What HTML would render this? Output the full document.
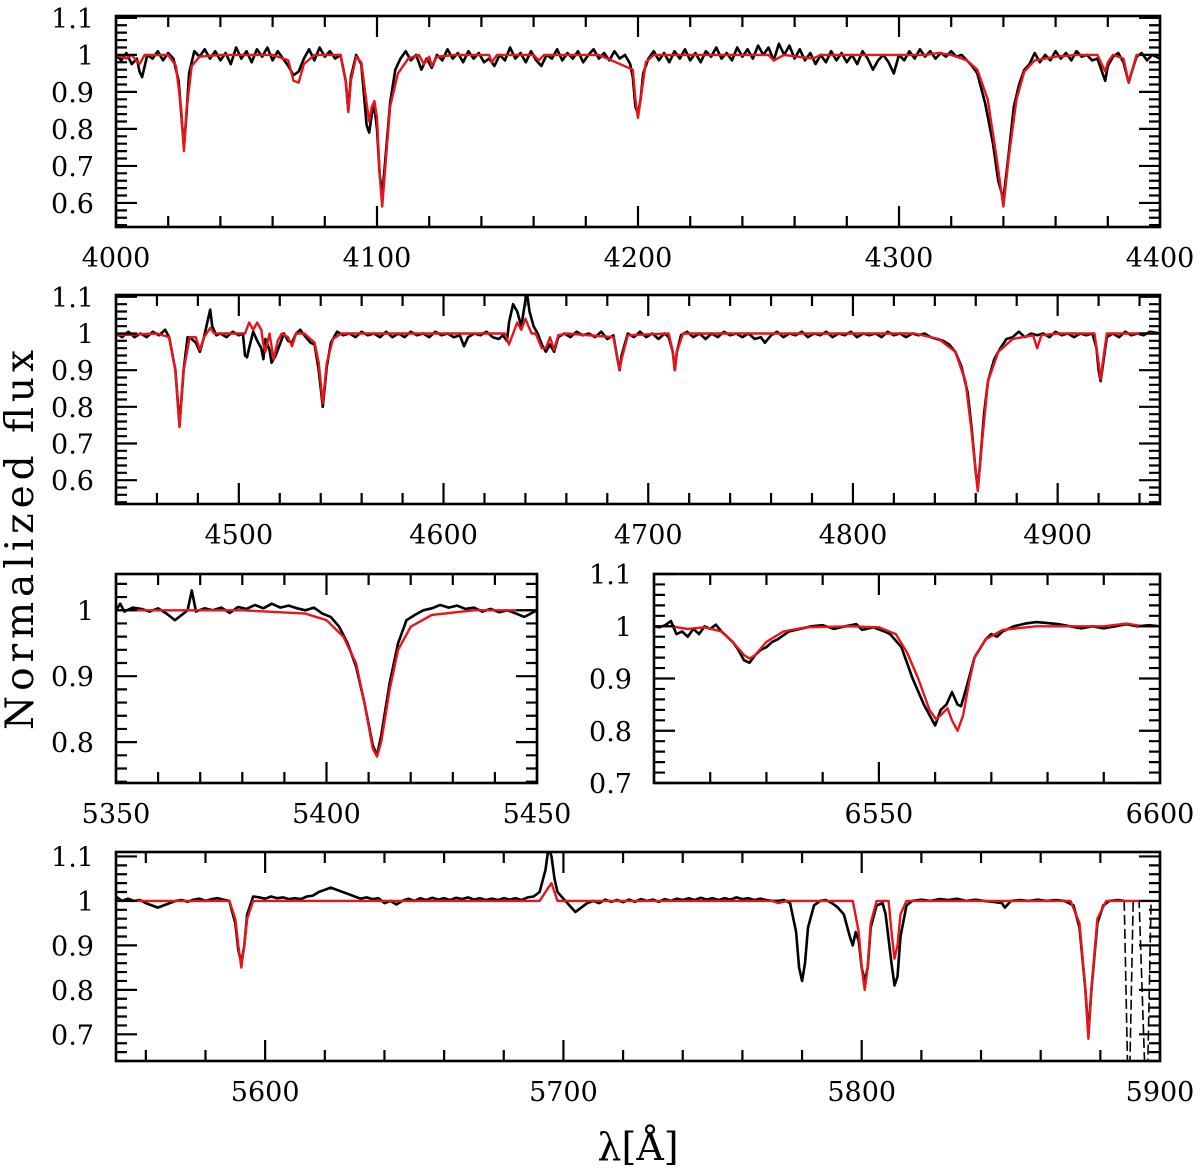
<!DOCTYPE html>
<html><head><meta charset="utf-8"><style>
html,body{margin:0;padding:0;background:#fff;}
svg{display:block;}
text{font-family:"DejaVu Serif","Liberation Serif",serif;fill:#000;}
</style></head><body>
<svg id="chart" width="1200" height="1176" viewBox="0 0 1200 1176" xmlns="http://www.w3.org/2000/svg">
<text x="0" y="0" font-size="39" text-anchor="middle" textLength="380" lengthAdjust="spacing" transform="translate(33,540) rotate(-90)">Normalized flux</text>
<text x="638" y="1160" font-size="38" text-anchor="middle">λ[Å]</text>
</svg>
<script>
// ---- Data (wavelength, flux) pairs ----
const p1Model = [4000,1.0,4004,0.99,4006,1.0,4009,0.975,4011,1.0,4020,1.0,4023,0.97,4025,0.85,4026,0.74,4027,0.85,4029,0.97,4032,0.995,4040,1.0,4060,1.0,4066,0.985,4068,0.93,4070,0.925,4072,0.975,4076,1.0,4086,1.0,4088,0.93,4089,0.845,4090,0.93,4092,0.995,4094,0.98,4096,0.87,4097,0.82,4098,0.86,4099,0.875,4100,0.83,4101,0.68,4102,0.59,4103,0.68,4105,0.86,4108,0.95,4112,0.99,4116,1.0,4118,0.975,4120,0.995,4121,0.97,4123,0.995,4130,1.0,4143,1.0,4144,0.98,4146,1.0,4160,1.0,4162,0.985,4164,1.0,4185,1.0,4198,0.96,4199,0.88,4200,0.83,4201,0.88,4203,0.98,4206,1.0,4250,1.0,4252,0.985,4256,1.0,4267,0.99,4270,1.0,4290,1.0,4310,1.0,4315,1.005,4320,1.0,4326,0.985,4330,0.96,4334,0.88,4337,0.74,4340,0.59,4342,0.72,4345,0.88,4348,0.955,4352,0.985,4360,0.995,4368,1.0,4376,1.0,4378,0.97,4379,0.955,4380,0.98,4382,1.0,4386,0.99,4388,0.925,4389,0.95,4391,1.0,4400,1.0];
const p1Obs = [4000,1.0,4002,0.985,4004,1.005,4006,0.975,4008,0.99,4009,0.955,4010,0.94,4012,1.0,4014,0.99,4016,1.01,4018,0.985,4020,1.005,4022,0.99,4024,0.93,4025,0.84,4026,0.75,4027,0.84,4028,0.95,4030,1.01,4032,0.995,4034,1.015,4036,0.99,4038,1.01,4040,0.985,4042,1.005,4044,0.975,4046,1.02,4048,0.99,4050,1.01,4052,0.98,4054,1.015,4056,0.995,4058,1.02,4060,0.985,4062,1.01,4064,0.99,4066,0.97,4068,0.945,4070,0.955,4072,0.99,4074,1.015,4076,0.985,4078,1.02,4080,0.995,4082,1.01,4084,0.99,4086,1.0,4088,0.93,4089,0.85,4090,0.94,4092,1.0,4094,0.975,4096,0.81,4097,0.79,4098,0.84,4099,0.86,4100,0.8,4101,0.68,4102,0.62,4103,0.7,4105,0.87,4107,0.96,4109,0.99,4111,1.01,4113,0.985,4115,1.0,4117,0.96,4119,0.99,4121,0.965,4123,1.0,4125,0.985,4127,1.015,4129,0.99,4131,1.005,4133,0.98,4135,1.01,4137,0.99,4139,1.005,4141,0.98,4143,0.99,4145,0.97,4147,1.0,4149,0.985,4151,1.02,4153,0.99,4155,1.005,4157,0.98,4159,1.01,4161,0.985,4163,0.97,4165,1.0,4167,0.99,4169,1.015,4171,0.985,4173,1.005,4175,0.99,4177,1.01,4179,0.98,4181,1.0,4183,1.015,4185,0.99,4187,1.005,4189,0.985,4191,1.01,4193,0.99,4195,1.0,4197,0.975,4198,0.94,4199,0.86,4200,0.84,4201,0.88,4202,0.95,4204,0.99,4206,1.01,4208,0.985,4210,1.005,4212,0.98,4214,1.01,4216,0.99,4218,1.015,4220,0.985,4222,1.005,4224,0.98,4226,1.01,4228,0.995,4230,1.02,4232,0.99,4234,1.005,4236,0.985,4238,1.02,4240,0.995,4242,1.015,4244,0.99,4246,1.025,4248,1.0,4250,1.02,4252,0.985,4254,1.03,4256,1.0,4258,1.025,4260,0.99,4262,1.015,4264,0.985,4266,1.005,4268,0.975,4270,1.0,4272,0.98,4274,1.01,4276,0.985,4278,1.005,4280,0.98,4282,1.0,4284,0.975,4286,1.01,4288,0.99,4290,0.96,4292,0.985,4294,1.0,4296,0.98,4298,0.95,4300,1.0,4302,0.985,4304,1.01,4306,0.99,4308,1.015,4310,0.995,4312,1.01,4314,0.99,4316,1.005,4318,0.995,4320,1.01,4322,0.995,4324,1.0,4326,0.985,4328,0.97,4330,0.95,4333,0.87,4336,0.76,4338,0.66,4340,0.61,4342,0.73,4344,0.86,4346,0.92,4348,0.96,4350,0.975,4352,1.005,4354,0.98,4356,1.0,4358,0.985,4360,1.01,4362,0.99,4364,1.005,4366,0.985,4368,1.01,4370,0.995,4372,1.0,4374,0.985,4376,0.99,4378,0.95,4379,0.93,4380,0.97,4382,0.995,4384,1.005,4386,0.98,4388,0.925,4389,0.95,4391,0.995,4393,1.005,4395,0.985,4397,1.0,4400,0.99];
const p2Model = [4440,0.995,4460,1.0,4466,0.99,4469,0.9,4471,0.745,4473,0.9,4476,0.99,4479,0.99,4481,0.955,4483,0.99,4486,1.015,4488,1.0,4500,1.0,4503,1.0,4505,1.03,4507,1.01,4509,1.03,4511,1.01,4512,0.97,4513,0.95,4515,1.0,4517,0.93,4519,0.98,4521,1.0,4524,0.99,4526,0.965,4528,1.0,4532,1.0,4537,0.975,4539,0.92,4541,0.81,4543,0.92,4546,0.985,4550,1.0,4580,1.0,4600,1.0,4630,1.0,4632,0.97,4634,1.0,4636,1.03,4638,1.01,4640,1.04,4643,1.0,4645,1.0,4648,0.96,4650,0.96,4652,0.99,4654,0.955,4656,0.995,4660,1.0,4683,0.99,4685,0.93,4686,0.9,4687,0.93,4690,0.995,4710,1.0,4712,0.95,4713,0.9,4714,0.95,4717,1.0,4800,1.0,4830,1.0,4842,0.985,4850,0.95,4855,0.87,4858,0.73,4861,0.57,4863,0.7,4866,0.87,4871,0.95,4878,0.985,4888,0.995,4890,0.96,4892,0.995,4900,1.0,4918,1.0,4920,0.92,4921,0.875,4922,0.92,4924,1.0,4950,1.0];
const p2Obs = [4440,1.0,4443,0.99,4446,1.005,4449,0.99,4452,1.0,4455,0.99,4458,1.005,4461,0.995,4464,1.01,4466,0.99,4469,0.9,4471,0.75,4473,0.9,4475,0.99,4477,0.985,4479,0.975,4481,0.95,4483,0.99,4485,1.04,4486,1.065,4487,1.02,4489,0.995,4491,1.0,4494,0.99,4497,1.005,4500,0.995,4502,1.0,4503,0.94,4504,0.935,4505,0.96,4507,1.005,4509,0.98,4511,0.96,4512,0.93,4513,0.985,4515,0.955,4516,0.92,4518,0.94,4520,0.97,4522,1.0,4524,0.98,4526,0.975,4528,1.0,4530,1.01,4532,0.995,4535,0.975,4537,0.97,4539,0.9,4541,0.8,4543,0.91,4545,0.975,4548,1.005,4551,0.995,4554,1.0,4557,0.99,4560,1.005,4563,0.995,4566,1.0,4569,0.99,4572,1.005,4575,0.99,4578,1.0,4581,0.99,4584,1.005,4587,0.995,4590,1.0,4593,0.99,4596,1.005,4599,0.995,4602,1.0,4605,0.99,4608,0.995,4610,0.965,4612,0.99,4615,1.0,4618,0.995,4621,1.005,4624,0.99,4627,0.985,4629,0.995,4631,0.98,4632,1.03,4634,1.08,4636,1.06,4638,1.02,4640,1.09,4641,1.1,4642,1.06,4644,1.02,4646,1.0,4648,0.97,4650,0.95,4652,0.97,4654,0.95,4656,0.99,4659,1.0,4662,0.99,4665,1.005,4668,0.995,4671,1.0,4674,0.99,4677,1.005,4680,0.985,4683,0.995,4685,0.93,4686,0.9,4687,0.94,4690,1.0,4693,0.99,4696,1.005,4699,0.99,4702,1.0,4705,0.985,4708,1.0,4710,0.99,4712,0.95,4713,0.9,4714,0.95,4716,0.995,4719,1.005,4722,0.99,4725,1.0,4728,0.985,4731,1.0,4734,0.99,4737,1.005,4740,0.995,4743,1.0,4746,0.99,4749,1.0,4752,0.985,4755,0.99,4757,0.975,4760,0.995,4763,1.005,4766,0.99,4769,1.0,4772,0.995,4775,1.005,4778,0.99,4781,1.0,4784,0.995,4787,1.005,4790,0.99,4793,1.0,4796,0.995,4799,1.005,4802,0.99,4805,1.0,4808,0.995,4811,1.0,4814,0.99,4817,1.005,4820,0.995,4823,1.0,4826,0.99,4829,1.0,4832,0.995,4835,1.0,4838,0.99,4841,0.985,4844,0.98,4847,0.97,4850,0.95,4853,0.91,4856,0.84,4858,0.74,4860,0.62,4861,0.58,4862,0.64,4864,0.78,4866,0.87,4869,0.93,4872,0.96,4875,0.985,4878,0.99,4881,1.005,4884,0.99,4887,1.0,4890,0.995,4893,1.0,4896,0.99,4899,1.005,4902,0.995,4905,1.0,4908,0.99,4911,1.0,4914,0.995,4917,1.0,4919,0.96,4920,0.9,4921,0.87,4922,0.91,4924,0.99,4927,1.0,4930,0.99,4933,1.005,4936,0.995,4939,1.0,4942,0.995,4945,1.005,4950,1.0];
const p3Model = [5350,1.0,5380,1.0,5395,0.995,5400,0.985,5404,0.96,5407,0.92,5409,0.86,5411,0.79,5412,0.778,5413,0.8,5415,0.88,5417,0.94,5420,0.975,5425,0.993,5435,1.0,5450,1.0];
const p3Obs = [5350,1.0,5351,1.01,5352,0.998,5354,1.004,5356,1.002,5358,0.998,5360,1.003,5362,0.995,5363,0.99,5364,0.985,5365,0.99,5366,0.995,5367,1.0,5368,1.03,5369,0.998,5371,1.003,5373,1.0,5375,1.004,5377,0.996,5379,1.005,5381,1.002,5383,1.008,5385,1.003,5387,1.01,5389,1.004,5391,1.007,5393,1.003,5395,1.0,5397,1.004,5399,0.995,5401,0.99,5403,0.975,5405,0.95,5407,0.915,5409,0.86,5411,0.795,5412,0.78,5413,0.81,5415,0.89,5417,0.95,5419,0.985,5421,0.993,5423,1.0,5425,1.003,5427,1.008,5429,1.004,5431,1.007,5433,1.002,5435,1.004,5437,0.998,5439,1.002,5441,0.997,5443,1.0,5445,0.995,5447,0.99,5450,1.0];
const p4Model = [6510,1.0,6513,1.0,6516,0.995,6519,0.998,6522,0.99,6524,0.97,6526,0.945,6527,0.938,6528,0.945,6530,0.97,6533,0.99,6537,0.998,6545,1.0,6550,0.998,6553,0.985,6555,0.95,6557,0.9,6559,0.84,6560.2,0.822,6561,0.83,6562.2,0.843,6563,0.82,6564,0.8,6565,0.83,6566,0.89,6567,0.94,6569,0.975,6572,0.993,6578,1.0,6590,1.0,6594,1.005,6597,1.0,6600,1.0];
const p4Obs = [6510,1.0,6511,0.998,6512,1.002,6513,1.01,6514,0.985,6515,0.99,6516,0.98,6517,0.995,6518,0.985,6519,1.0,6520,0.995,6521,1.003,6522,0.99,6523,0.98,6524,0.97,6525,0.955,6526,0.935,6527,0.93,6528,0.945,6529,0.955,6530,0.96,6531,0.97,6532,0.975,6534,0.99,6536,0.995,6538,1.0,6540,1.002,6542,0.995,6544,1.0,6546,1.004,6547,0.993,6549,0.998,6551,0.99,6552,0.985,6554,0.96,6556,0.9,6558,0.85,6559.5,0.82,6560,0.81,6561,0.84,6562,0.85,6563,0.874,6564,0.85,6564.6,0.847,6565.5,0.88,6567,0.94,6569,0.975,6570,0.985,6571,0.98,6572,0.99,6574,1.0,6576,1.005,6578,1.008,6580,1.006,6582,1.004,6584,1.0,6586,0.996,6588,1.0,6590,0.996,6592,1.0,6594,1.004,6596,1.0,6598,1.002,6600,1.0];
const p5Model = [5550,1.0,5588,1.0,5590,0.96,5591,0.9,5592,0.85,5593,0.9,5594,0.96,5596,1.0,5692,1.0,5694,1.02,5696,1.04,5698,1.0,5770,1.0,5772,0.995,5775,1.0,5797,1.0,5799,0.93,5800,0.85,5801,0.8,5802,0.85,5803,0.95,5805,1.0,5809,1.0,5810,0.93,5811,0.87,5812,0.9,5813,0.97,5815,1.0,5870,1.0,5873,0.95,5875,0.8,5876,0.69,5877,0.8,5879,0.96,5882,1.0,5900,1.0];
const p5Obs = [5550,1.01,5552,1.0,5554,1.005,5556,1.0,5558,1.002,5560,0.995,5562,0.99,5564,0.985,5566,0.99,5568,0.995,5570,1.0,5572,1.002,5574,0.998,5576,1.003,5578,1.005,5580,1.0,5582,1.004,5584,1.006,5586,1.003,5588,1.0,5590,0.95,5591,0.89,5592,0.86,5593,0.9,5594,0.97,5596,1.01,5598,1.008,5600,1.005,5602,1.01,5604,1.006,5606,1.008,5608,1.004,5610,1.006,5612,1.004,5614,1.01,5616,1.012,5618,1.02,5620,1.025,5622,1.03,5624,1.025,5626,1.02,5628,1.015,5630,1.01,5632,1.005,5634,1.008,5636,1.004,5638,1.006,5640,0.995,5642,1.0,5644,0.992,5646,1.0,5648,1.005,5650,1.0,5652,1.006,5654,1.002,5656,1.007,5658,1.003,5660,1.006,5662,1.002,5664,1.007,5666,1.004,5668,1.008,5670,1.003,5672,1.006,5674,1.002,5676,1.005,5678,1.002,5680,1.006,5682,1.003,5684,1.006,5686,1.002,5688,1.008,5690,1.01,5692,1.02,5694,1.07,5695,1.12,5696,1.1,5697,1.05,5698,1.02,5700,1.005,5702,0.99,5704,0.975,5706,0.985,5708,0.995,5710,1.0,5712,0.995,5714,1.003,5716,0.998,5718,1.002,5720,0.997,5722,1.003,5724,0.998,5726,1.004,5728,1.0,5730,1.003,5732,0.998,5734,1.004,5736,1.0,5738,1.005,5740,1.002,5742,1.006,5744,1.002,5746,1.007,5748,1.003,5750,1.006,5752,1.002,5754,1.006,5756,1.003,5758,1.008,5760,1.004,5762,1.006,5764,1.002,5766,1.005,5768,1.002,5770,1.0,5772,1.0,5774,1.002,5776,0.995,5778,0.93,5779,0.85,5780,0.82,5781,0.86,5782,0.94,5784,0.99,5786,1.0,5788,1.002,5790,0.995,5792,0.985,5794,0.97,5796,0.92,5797,0.9,5798,0.93,5799,0.91,5800,0.85,5801,0.82,5802,0.85,5803,0.94,5805,0.99,5807,0.995,5808,0.97,5810,0.86,5811,0.81,5812,0.83,5813,0.92,5815,0.99,5817,1.0,5820,1.003,5823,1.0,5826,1.004,5829,1.002,5832,1.005,5835,1.0,5838,1.003,5841,1.0,5844,0.998,5847,0.995,5848,0.985,5850,1.0,5853,1.002,5856,1.0,5859,1.003,5862,1.0,5865,1.002,5868,1.0,5871,0.99,5873,0.94,5875,0.8,5876,0.7,5877,0.8,5879,0.95,5881,0.99,5883,1.0,5886,1.002,5888,1.0];
const p5ObsDashed = [5888,1.0,5889.5,0.5,5891,1.0,5893,1.0,5895.5,0.5,5897,1.0,5900,1.0];

// tick labels
const p1XLabels = [4000,4100,4200,4300,4400];
const p2XLabels = [4500,4600,4700,4800,4900];
const p3XLabels = [5350,5400,5450];
const p4XLabels = [6550,6600];
const p5XLabels = [5600,5700,5800,5900];
const p1YLabels = ["0.6","0.7","0.8","0.9","1","1.1"];
const p3YLabels = ["0.8","0.9","1"];
const p4YLabels = ["0.7","0.8","0.9","1","1.1"];
const p5YLabels = ["0.7","0.8","0.9","1","1.1"];

const NS = "http://www.w3.org/2000/svg";
const svg = document.getElementById('chart');
function mk(tag, attrs, parent){
  const e = document.createElementNS(NS, tag);
  for (const k in attrs) e.setAttribute(k, attrs[k]);
  (parent||svg).appendChild(e);
  return e;
}
const panels = [
  {id:'panel-1', L:116,R:1160,T:16,B:227, x0:4000,x1:4400, y0:0.535,y1:1.105, xminor:20,xmajor:100, xl:p1XLabels, yl:p1YLabels, model:p1Model, obs:p1Obs},
  {id:'panel-2', L:116,R:1160,T:295,B:504, x0:4440,x1:4950, y0:0.535,y1:1.105, xminor:20,xmajor:100, xl:p2XLabels, yl:p1YLabels, model:p2Model, obs:p2Obs},
  {id:'panel-3', L:116,R:537,T:574,B:783, x0:5350,x1:5450, y0:0.738,y1:1.055, xminor:10,xmajor:50, xl:p3XLabels, yl:p3YLabels, model:p3Model, obs:p3Obs},
  {id:'panel-4', L:654,R:1160,T:574,B:783, x0:6510,x1:6600, y0:0.7,y1:1.1, xminor:10,xmajor:50, xl:p4XLabels, yl:p4YLabels, model:p4Model, obs:p4Obs},
  {id:'panel-5', L:116,R:1160,T:852,B:1061, x0:5550,x1:5900, y0:0.64,y1:1.11, xminor:20,xmajor:100, xl:p5XLabels, yl:p5YLabels, model:p5Model, obs:p5Obs, dashed:p5ObsDashed}
];
const defs = mk('defs', {});
panels.forEach((p, i) => {
  const sx = v => p.L + (v - p.x0) / (p.x1 - p.x0) * (p.R - p.L);
  const sy = v => p.B - (v - p.y0) / (p.y1 - p.y0) * (p.B - p.T);
  const g = mk('g', {});
  
  
  const cp = mk('clipPath', {id:'clip'+i}, defs);
  mk('rect', {x:p.L, y:p.T, width:p.R-p.L, height:p.B-p.T}, cp);
  const toPath = arr => { let d=''; for (let k=0;k<arr.length;k+=2) d += (k?'L':'M') + sx(arr[k]).toFixed(1) + ',' + sy(arr[k+1]).toFixed(1); return d; };
  const obs = mk('path', {d:toPath(p.obs), fill:'none', stroke:'#000', 'stroke-width':2.6, 'stroke-linejoin':'round', 'clip-path':'url(#clip'+i+')'}, g);
  
  
  if (p.dashed) {
    const ds = mk('path', {d:toPath(p.dashed), fill:'none', stroke:'#000', 'stroke-width':1.6, 'stroke-dasharray':'10,4', 'clip-path':'url(#clip'+i+')'}, g);
    
    
  }
  const mod = mk('path', {d:toPath(p.model), fill:'none', stroke:'#e8141a', 'stroke-width':2.4, 'stroke-linejoin':'round', 'clip-path':'url(#clip'+i+')'}, g);
  
  
  let td = '';
  for (let v = Math.ceil(p.x0 / p.xminor) * p.xminor; v <= p.x1 + 1e-6; v += p.xminor) {
    const x = sx(v); const len = (Math.abs(v / p.xmajor - Math.round(v / p.xmajor)) < 1e-6) ? 21 : 11;
    td += `M${x},${p.B}v${-len}M${x},${p.T}v${len}`;
  }
  for (let k = Math.ceil(p.y0 / 0.02 - 1e-6); k * 0.02 <= p.y1 + 1e-6; k++) {
    const v = k * 0.02; const y = sy(v); const len = (k % 5 === 0) ? 21 : 11;
    td += `M${p.L},${y}h${len}M${p.R},${y}h${-len}`;
  }
  const ticks = mk('path', {d:td, stroke:'#000', 'stroke-width':2.2, fill:'none'}, g);
  
  
  const fr = mk('rect', {x:p.L, y:p.T, width:p.R-p.L, height:p.B-p.T, fill:'none', stroke:'#000', 'stroke-width':2.6}, g);
  
  
  p.xl.forEach(v => {
    const t = mk('text', {x:sx(v), y:p.B + 40, 'font-size':27, 'text-anchor':'middle'}, g);
    
    
    t.textContent = v;
  });
  p.yl.forEach(s => {
    const t = mk('text', {x:p.L - 22, y:sy(parseFloat(s)) + 10, 'font-size':27, 'text-anchor':'end'}, g);
    
    
    t.textContent = s;
  });
});
</script>
</body></html>
